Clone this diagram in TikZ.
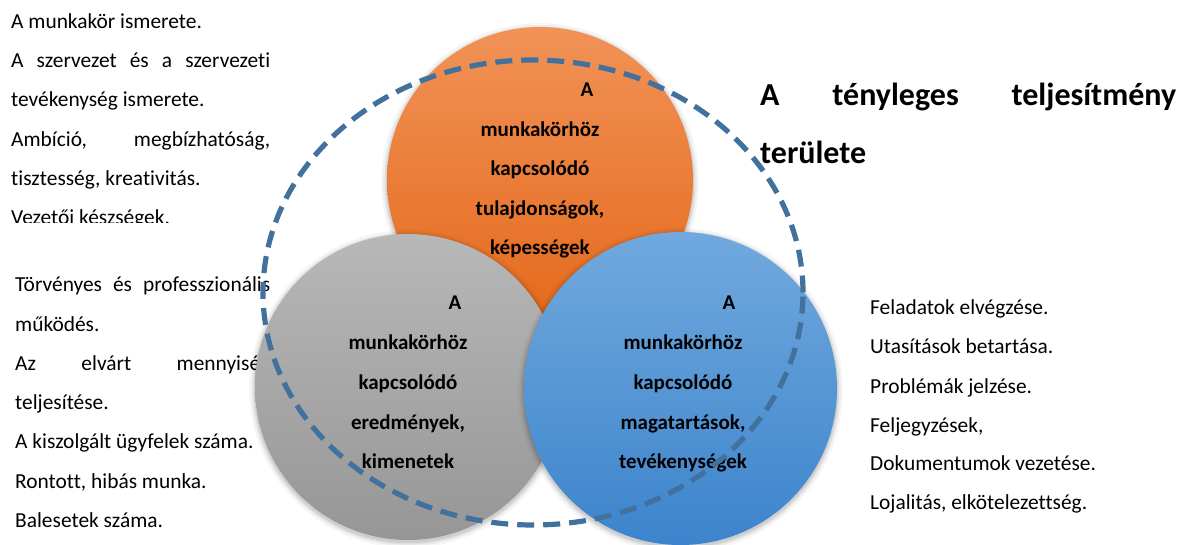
\documentclass[tikz,border=0pt]{standalone}
\usepackage{fontspec}
\setmainfont{Carlito}[Ligatures=NoCommon]
\definecolor{dashblue}{RGB}{65,113,156}
\definecolor{orTop}{RGB}{241,146,87}
\definecolor{orBot}{RGB}{228,104,26}
\definecolor{grTop}{RGB}{184,184,184}
\definecolor{grBot}{RGB}{150,150,150}
\definecolor{blTop}{RGB}{113,169,222}
\definecolor{blBot}{RGB}{60,132,204}
\newcommand\vennshadow[2]{%
  \foreach \r/\o in {6/0.03,4/0.04,2.5/0.06,1/0.08}{%
    \fill[black,opacity=\o] ([yshift=-2pt]#1) circle[radius=#2pt+\r pt];}}
\begin{document}
\begin{tikzpicture}[x=1pt,y=-1pt,
  body/.style={anchor=base west,inner sep=0pt,font=\fontsize{21.4}{25}\selectfont},
  lbl/.style={anchor=base,inner sep=0pt,font=\bfseries\fontsize{21}{25}\selectfont},
  ttl/.style={anchor=base west,inner sep=0pt,font=\bfseries\fontsize{32}{38}\selectfont},
  dashring/.style={draw=dashblue,line width=5.2pt,dash pattern=on 17pt off 9pt}]
\useasboundingbox (0,0) rectangle (1181,545);

% top-left text block (clipped at the bottom)
\begin{scope}
\clip (0,0) rectangle (300,222.5);
\node[body] (tl1) at (11,28.3) {A munkakör ismerete.};
\node[body] (tl2) at (11,67.6) {\hbox to 259pt{A\hfill szervezet\hfill és\hfill a\hfill szervezeti}};
\node[body] (tl3) at (11,106.9) {tevékenység ismerete.};
\node[body] (tl4) at (11,146.2) {\hbox to 259pt{Ambíció,\hfill megbízhatóság,}};
\node[body] (tl5) at (11,185.5) {tisztesség, kreativitás.};
\node[body] (tl6) at (11,224.8) {Vezetői készségek.};
\end{scope}

% bottom-left text block
\node[body] (bl1) at (15,292) {\hbox to 255pt{Törvényes\hfill és\hfill professzionális}};
\node[body] (bl2) at (15,331.2) {működés.};
\node[body] (bl3) at (15,370.4) {\hbox to 255pt{Az\hfill elvárt\hfill mennyiség}};
\node[body] (bl4) at (15,409.6) {teljesítése.};
\node[body] (bl5) at (15,448.8) {A kiszolgált ügyfelek száma.};
\node[body] (bl6) at (15,488) {Rontott, hibás munka.};
\node[body] (bl7) at (15,527.2) {Balesetek száma.};

% right text block
\node[body] (rb1) at (870,315) {Feladatok elvégzése.};
\node[body] (rb2) at (870,354) {Utasítások betartása.};
\node[body] (rb3) at (870,393) {Problémák jelzése.};
\node[body] (rb4) at (870,432) {Feljegyzések,};
\node[body] (rb5) at (870,470.5) {Dokumentumok vezetése.};
\node[body] (rb6) at (870,509.5) {Lojalitás, elkötelezettség.};

% title
\node[ttl] (t1) at (760,106) {\hbox to 416pt{A\hfill tényleges\hfill teljesítmény}};
\node[ttl] (t2) at (760,164) {területe};

% circles
\coordinate (co) at (540,180);
\coordinate (cg) at (408,387);
\coordinate (cb) at (680.5,388.5);
\coordinate (ce) at (533,292.5);

\vennshadow{co}{153}
\shade[top color=orTop,bottom color=orBot] (co) circle[radius=153pt];
\vennshadow{cg}{153}
\shade[top color=grTop,bottom color=grBot] (cg) circle[radius=153pt];
\vennshadow{cb}{156.5}
\shade[top color=blTop,bottom color=blBot] (cb) circle[radius=156.5pt];

% circle labels
\node[lbl] (oa) at (587,97) {A};
\node[lbl] (o1) at (540,136.5) {munkakörhöz};
\node[lbl] (o2) at (540,176) {kapcsolódó};
\node[lbl] (o3) at (540,215.5) {tulajdonságok,};
\node[lbl] (o4) at (540,255) {képességek};

\node[lbl] (ga) at (455,310) {A};
\node[lbl] (g1) at (408,350) {munkakörhöz};
\node[lbl] (g2) at (408,389.5) {kapcsolódó};
\node[lbl] (g3) at (408,429) {eredmények,};
\node[lbl] (g4) at (408,468.5) {kimenetek};

\node[lbl] (ba) at (729,310) {A};
\node[lbl] (b1) at (683,350) {munkakörhöz};
\node[lbl] (b2) at (683,389.5) {kapcsolódó};
\node[lbl] (b3) at (683,429) {magatartások,};
\node[lbl] (b4) at (683,468.5) {tevékenységek};

% dashed performance area
\draw[dashring] (ce) ellipse[x radius=270pt,y radius=232.5pt];
\end{tikzpicture}
\end{document}
